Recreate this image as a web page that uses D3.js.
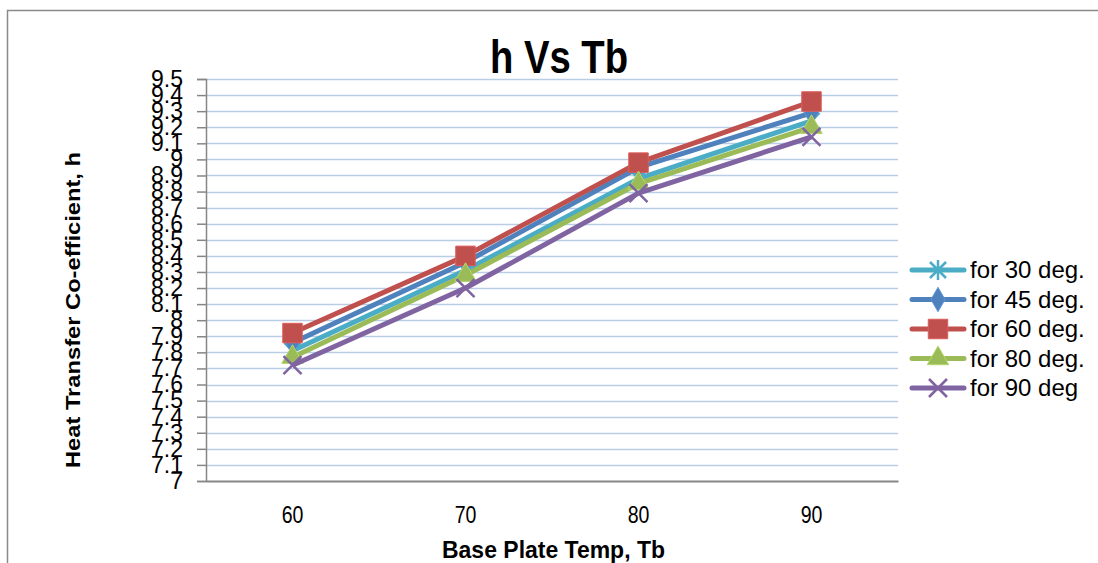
<!DOCTYPE html>
<html><head><meta charset="utf-8">
<script src="https://cdn.jsdelivr.net/npm/d3@7"></script>
<style>html,body{margin:0;padding:0;background:#fff;overflow:hidden}</style>
</head><body><svg id="c" width="1098" height="563"></svg>
<script>
const categories = [60, 70, 80, 90];
const seriesNames = ["for 30 deg.", "for 45 deg.", "for 60 deg.", "for 80 deg.", "for 90 deg"];
const s30 = [7.81, 8.31, 8.88, 9.24];
const s45 = [7.86, 8.36, 8.95, 9.29];
const s60 = [7.92, 8.40, 8.98, 9.36];
const s80 = [7.77, 8.28, 8.85, 9.20];
const s90 = [7.72, 8.20, 8.79, 9.14];
const yTickValues = [7,7.1,7.2,7.3,7.4,7.5,7.6,7.7,7.8,7.9,8,8.1,8.2,8.3,8.4,8.5,8.6,8.7,8.8,8.9,9,9.1,9.2,9.3,9.4,9.5];
const yTickLabels = ["7","7.1","7.2","7.3","7.4","7.5","7.6","7.7","7.8","7.9","8","8.1","8.2","8.3","8.4","8.5","8.6","8.7","8.8","8.9","9","9.1","9.2","9.3","9.4","9.5"];
const titleText = "h Vs Tb";
const xTitle = "Base Plate Temp, Tb";
const yTitle = "Heat Transfer Co-efficient, h";

const seriesValues = [s30, s45, s60, s80, s90];
const colors = ["#4BACC6", "#4F81BD", "#C0504D", "#9BBB59", "#8064A2"];
const markers = ["asterisk", "diamond", "square", "triangle", "x"];

const svg = d3.select("#c");
const narrow = "'Liberation Sans Narrow','Arial Narrow','Liberation Sans',Arial,sans-serif";
const sans = "'Liberation Sans',Arial,sans-serif";

// outer chart border
svg.append("path").attr("d", "M7.5,563 L7.5,10.5 L1098,10.5")
  .attr("fill", "none").attr("stroke", "#8a8a8a").attr("stroke-width", 1.5);

const x = d3.scaleBand().domain(categories).range([206, 898]);
const y = d3.scaleLinear().domain([7, 9.5]).range([481, 79]);
const cx = d => x(d) + x.bandwidth() / 2;

// gridlines
svg.append("g").selectAll("line").data(yTickValues.slice(1)).join("line")
  .attr("x1", 206).attr("x2", 898)
  .attr("y1", d => Math.round(y(d)) + 0.5).attr("y2", d => Math.round(y(d)) + 0.5)
  .attr("stroke", "#B9CDE5").attr("stroke-width", 1.5);

// y axis
const yAxis = d3.axisLeft(y).tickValues(yTickValues).tickSize(9).tickPadding(14)
  .tickFormat((d, i) => yTickLabels[i]);
const gy = svg.append("g").attr("transform", "translate(206,0)").call(yAxis);
gy.select(".domain").attr("stroke", "#868686").attr("stroke-width", 1.5);
gy.selectAll(".tick line").attr("stroke", "#868686").attr("stroke-width", 1.5);
gy.selectAll(".tick text").attr("font-family", sans).attr("font-size", 23).attr("fill", "#000");

// x axis
const xAxis = d3.axisBottom(x).tickSize(0).tickPadding(26);
const gx = svg.append("g").attr("transform", "translate(0,481)").call(xAxis);
gx.select(".domain").attr("stroke", "#868686").attr("stroke-width", 2);
gx.selectAll(".tick text").attr("font-family", narrow).attr("font-size", 23).attr("fill", "#000")
  .attr("transform", "scale(0.85,1)");

function markerPath(type) {
  switch (type) {
    case "square": return d3.symbol(d3.symbolSquare, 380)();
    case "diamond": return d3.symbol(d3.symbolDiamond, 170)();
    case "triangle": return d3.symbol(d3.symbolTriangle, 200)();
    case "x": return "M-9,-9L9,9M-9,9L9,-9";
    case "asterisk": return "M-8,-8L8,8M-8,8L8,-8M0,-10L0,10";
  }
}
function drawMarker(g, type, color) {
  const p = g.append("path").attr("d", markerPath(type));
  if (type === "x" || type === "asterisk") {
    p.attr("fill", "none").attr("stroke", color).attr("stroke-width", 2.5);
  } else {
    p.attr("fill", color).attr("stroke", d3.color(color).brighter(0.4)).attr("stroke-width", 1);
  }
}

const line = d3.line().x((d, i) => cx(categories[i])).y(d => y(d));
seriesValues.forEach((vals, si) => {
  const g = svg.append("g");
  g.append("path").datum(vals).attr("d", line)
    .attr("fill", "none").attr("stroke", colors[si]).attr("stroke-width", 5).attr("stroke-linejoin", "round");
  vals.forEach((v, i) => {
    const mg = g.append("g").attr("transform", `translate(${cx(categories[i])},${y(v)})`);
    drawMarker(mg, markers[si], colors[si]);
  });
});

// legend
const legY0 = 270, legDy = 29.5;
seriesNames.forEach((name, i) => {
  const g = svg.append("g").attr("transform", `translate(0,${legY0 + i * legDy})`);
  g.append("line").attr("x1", 912).attr("x2", 964).attr("y1", 0).attr("y2", 0)
    .attr("stroke", colors[i]).attr("stroke-width", 5).attr("stroke-linecap", "round");
  const mg = g.append("g").attr("transform", "translate(938,0)");
  drawMarker(mg, markers[i], colors[i]);
  g.append("text").attr("x", 970).attr("y", 0).attr("dy", "0.35em")
    .attr("font-family", sans).attr("font-size", 24).attr("fill", "#000").text(name);
});

// title
svg.append("text").attr("x", 490).attr("y", 73).attr("textLength", 138).attr("lengthAdjust", "spacingAndGlyphs")
  .attr("font-family", narrow).attr("font-weight", "bold").attr("font-size", 46).text(titleText);

// x title
svg.append("text").attr("x", 442).attr("y", 558).attr("textLength", 223).attr("lengthAdjust", "spacingAndGlyphs")
  .attr("font-family", narrow).attr("font-weight", "bold").attr("font-size", 24).text(xTitle);

// y title
svg.append("text").attr("transform", "translate(80,468) rotate(-90)")
  .attr("x", 0).attr("y", 0).attr("textLength", 316).attr("lengthAdjust", "spacingAndGlyphs")
  .attr("font-family", sans).attr("font-weight", "bold").attr("font-size", 21).text(yTitle);
</script></body></html>
